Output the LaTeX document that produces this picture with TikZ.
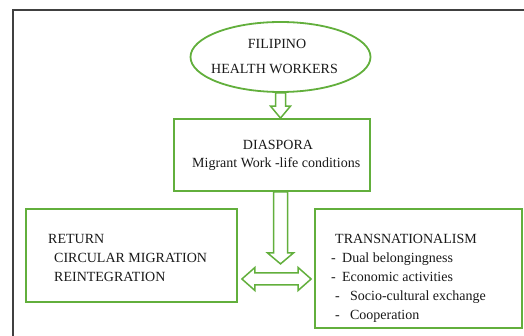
\documentclass[tikz,border=0pt]{standalone}
\usepackage{fontspec}
\setmainfont{Liberation Serif}
\usetikzlibrary{calc,shapes.geometric}
\definecolor{leaf}{RGB}{98,175,60}
\definecolor{framegray}{RGB}{64,64,64}
\begin{document}
\begin{tikzpicture}[x=1pt,y=-1pt,
  box/.style={draw=leaf,line width=1.8pt,fill=white,inner sep=0pt},
  blockarrow/.style={draw=leaf,line width=1.5pt,fill=white,line join=miter},
  txt/.style={inner sep=0pt,font=\fontsize{14}{16}\selectfont,text=black!90}]
\useasboundingbox (0,0) rectangle (524,336);

% outer frame
\draw[framegray,line width=1.2pt] (13,336) -- (13,10) -- (524,10);

% shapes
\node[box,ellipse,minimum width=180pt,minimum height=70pt] (fhw) at (280.5,57) {};
\node[box,rectangle,minimum width=196pt,minimum height=72pt] (dia) at (272,155) {};
\node[box,rectangle,minimum width=211pt,minimum height=93pt] (ret) at (131.5,255.5) {};
\node[box,rectangle,minimum width=207pt,minimum height=119pt] (trans) at (418.5,268.5) {};

% texts
\node[txt,anchor=base] (t1) at (277,49) {FILIPINO};
\node[txt,anchor=base] (t2) at (274.5,74) {HEALTH WORKERS};
\node[txt,anchor=base] (t3) at (278,150) {DIASPORA};
\node[txt,anchor=base west] (t4) at (192,168) {Migrant Work -life conditions};
\node[txt,anchor=base west] (t5) at (48,244) {RETURN};
\node[txt,anchor=base west] (t6) at (54,263) {CIRCULAR MIGRATION};
\node[txt,anchor=base west] (t7) at (54,282) {REINTEGRATION};
\node[txt,anchor=base west] (t8) at (335,244) {TRANSNATIONALISM};
\node[txt,anchor=base west] (t9) at (331,263) {-\hspace{6.3pt}Dual belongingness};
\node[txt,anchor=base west] (t10) at (331,282) {-\hspace{6.3pt}Economic activities};
\node[txt,anchor=base west] (t11) at (335,301) {-\hspace{10.3pt}Socio-cultural exchange};
\node[txt,anchor=base west] (t12) at (335,319) {-\hspace{10.3pt}Cooperation};

% arrow: workers -> diaspora
\coordinate (a1top) at (fhw.south);
\coordinate (a1tip) at (fhw.south |- dia.north);
\draw[blockarrow] ($(a1top)+(-5,0)$) -- ($(a1tip)+(-5,-12)$) -- ($(a1tip)+(-10,-12)$)
  -- (a1tip) -- ($(a1tip)+(10,-12)$) -- ($(a1tip)+(5,-12)$) -- ($(a1top)+(5,0)$) -- cycle;

% arrow: diaspora downwards
\coordinate (a2top) at (fhw.south |- dia.south);
\coordinate (a2tip) at ($(a2top)+(0,72)$);
\draw[blockarrow] ($(a2top)+(-7,0)$) -- ($(a2tip)+(-7,-11)$) -- ($(a2tip)+(-13,-11)$)
  -- (a2tip) -- ($(a2tip)+(13,-11)$) -- ($(a2tip)+(7,-11)$) -- ($(a2top)+(7,0)$) -- cycle;

% two-way arrow: return <-> transnationalism
\coordinate (dl) at ($(ret.east)+(4,23.5)$);
\coordinate (dr) at ($(trans.west)+(-3,10.5)$);
\draw[blockarrow] (dl) -- ($(dl)+(13,-11.5)$) -- ($(dl)+(13,-6)$) -- ($(dr)+(-13,-6)$)
  -- ($(dr)+(-13,-11.5)$) -- (dr) -- ($(dr)+(-13,11.5)$) -- ($(dr)+(-13,6)$)
  -- ($(dl)+(13,6)$) -- ($(dl)+(13,11.5)$) -- cycle;
\end{tikzpicture}
\end{document}
